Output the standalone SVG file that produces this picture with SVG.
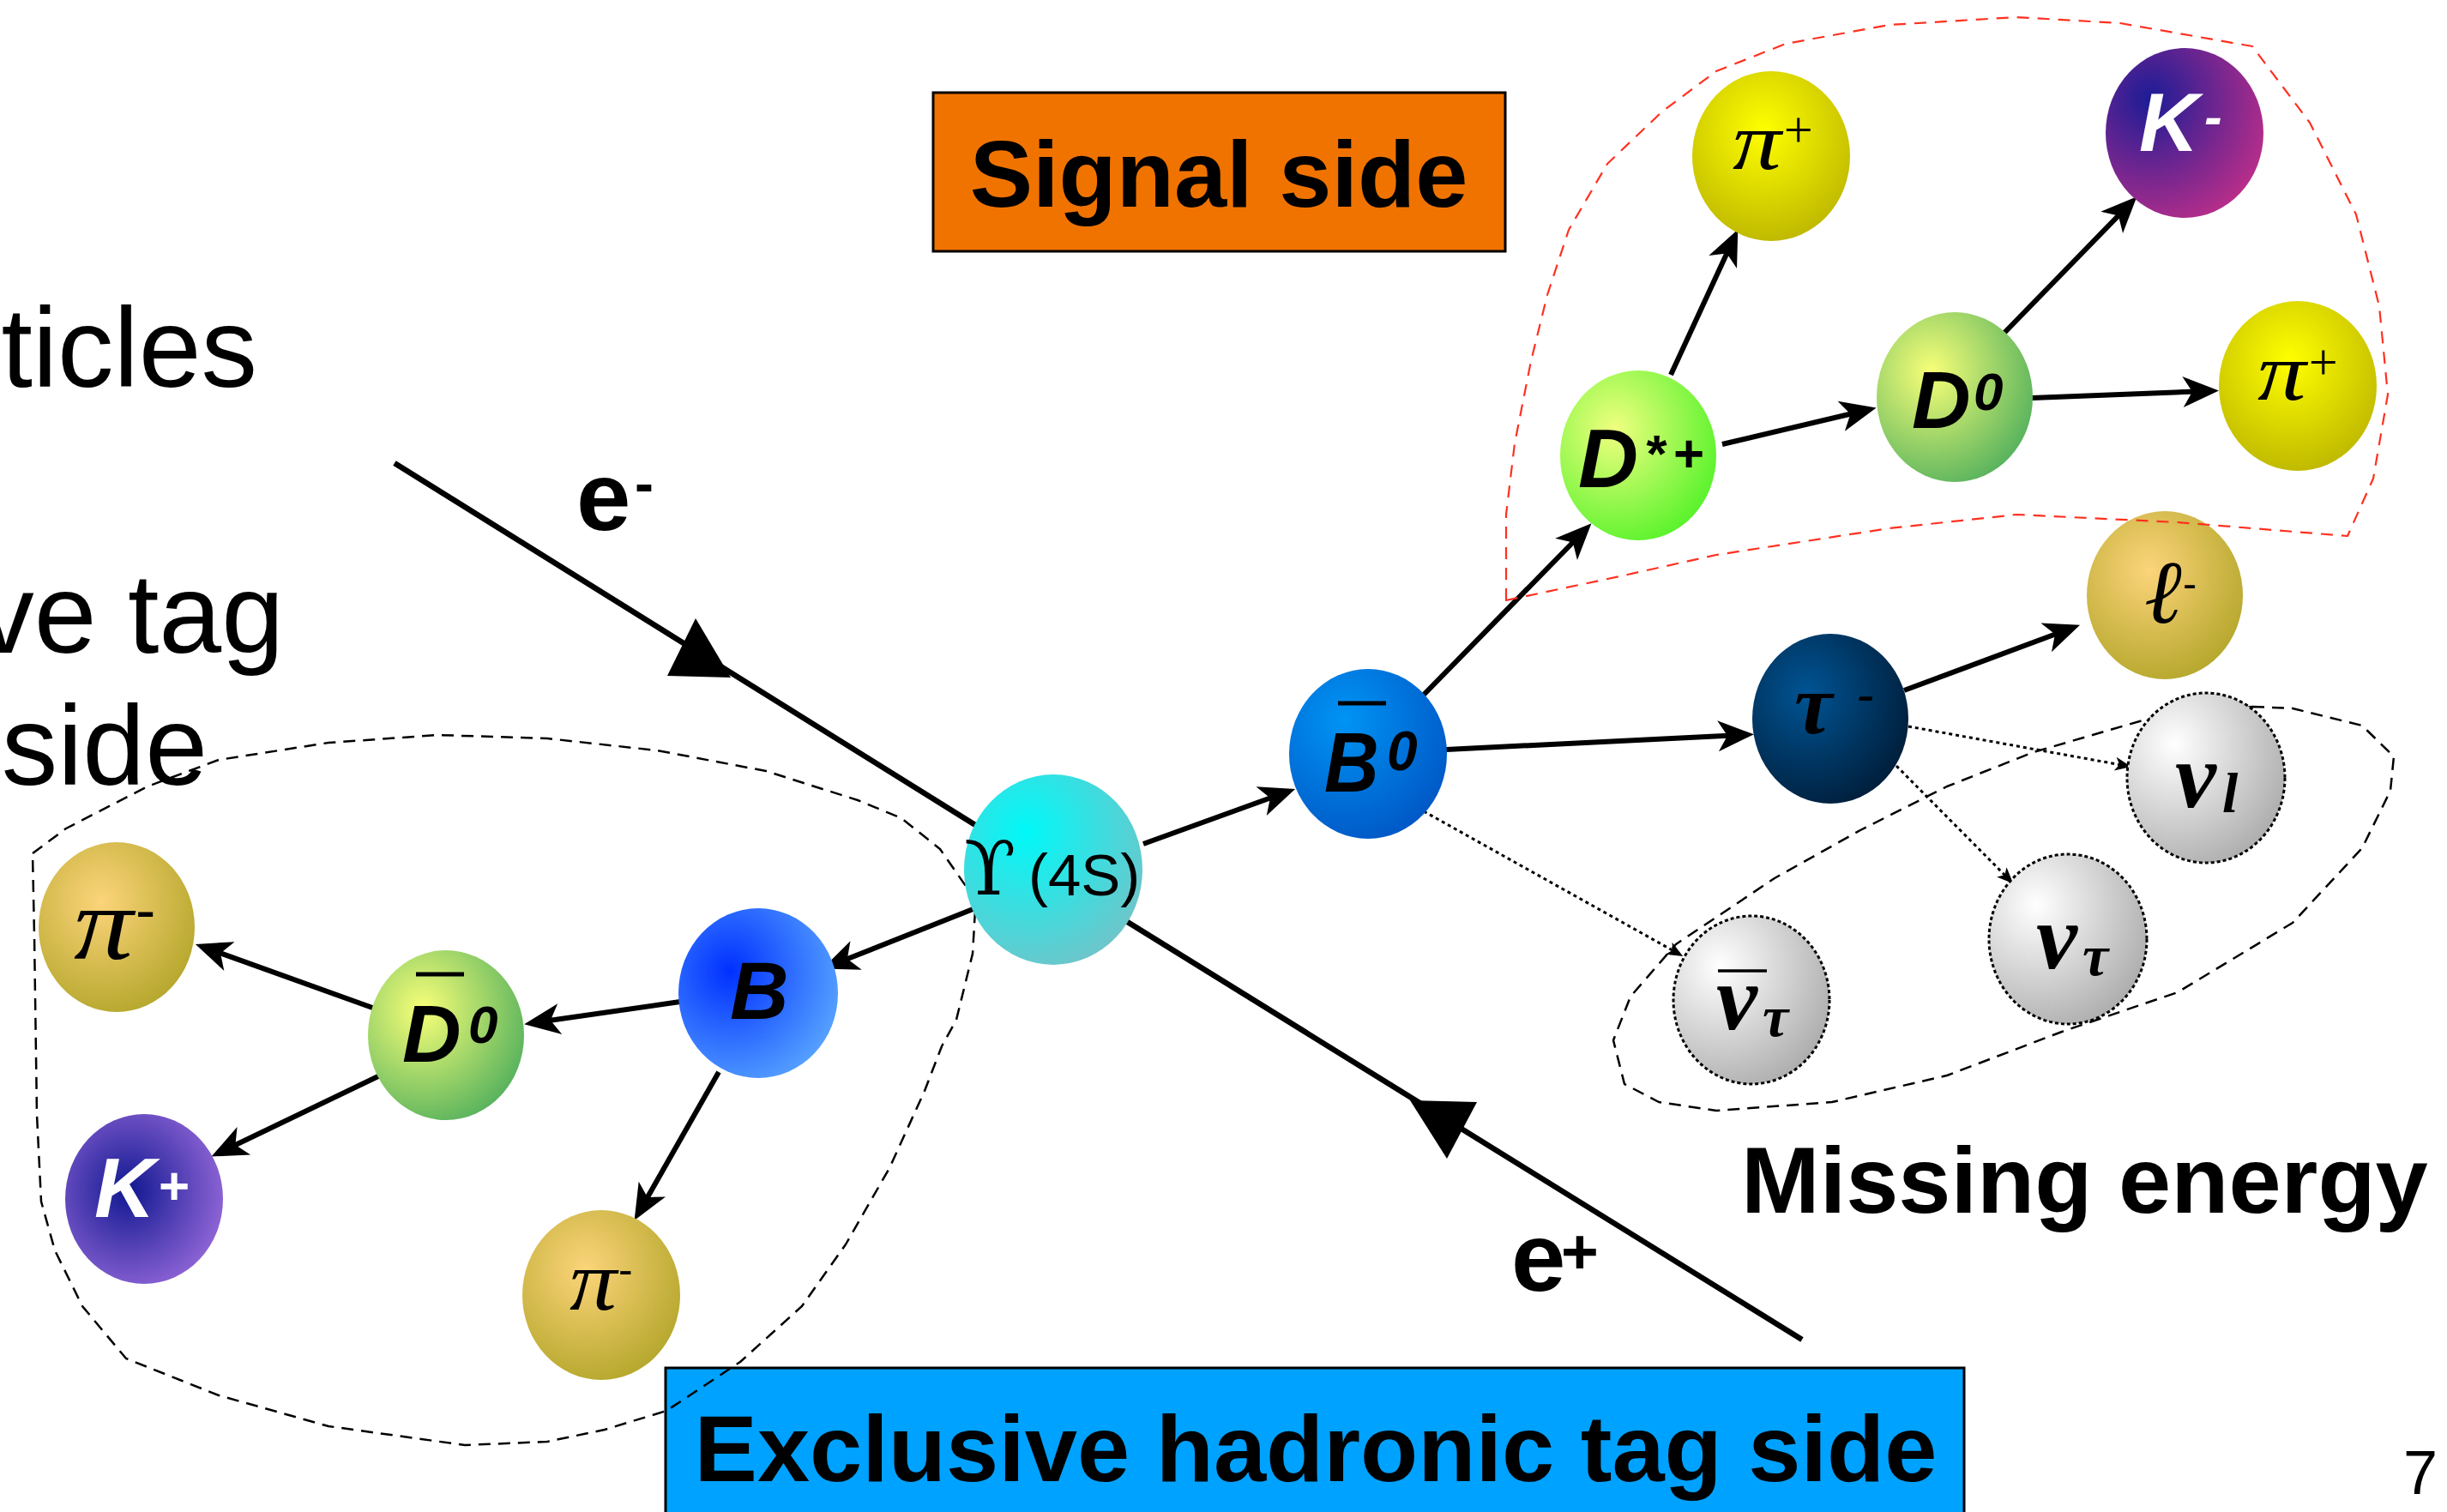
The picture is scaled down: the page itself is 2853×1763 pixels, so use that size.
<svg xmlns="http://www.w3.org/2000/svg" width="2853" height="1763" viewBox="0 0 2853 1763">
<style>
.txt{font-family:"Liberation Sans",Arial,sans-serif;fill:#000}
.bold{font-weight:bold}
.sbi{font-family:"Liberation Sans",Arial,sans-serif;font-weight:bold;font-style:italic;fill:#000}
.wht{fill:#fff}
.pi{font-family:"Liberation Serif","Times New Roman",serif;font-style:italic;fill:#000}
.nu{font-family:"Liberation Serif","Times New Roman",serif;font-weight:bold;font-style:italic;fill:#000}
.arr{stroke:#000;stroke-width:6;fill:none;marker-end:url(#ah)}
.dot{stroke:#000;stroke-width:3;stroke-dasharray:4 4;fill:none;marker-end:url(#ahs)}
.beam{stroke:#000;stroke-width:6.5;fill:none}
.nuel{stroke:#000;stroke-width:3;stroke-dasharray:4 3}
.cont{fill:none;stroke:#000;stroke-width:2.5;stroke-dasharray:14 9;stroke-linejoin:round}
.red{fill:none;stroke:#ff3020;stroke-width:2.2;stroke-dasharray:14 10;stroke-linejoin:round}
.bar{stroke:#000;stroke-width:5}
</style>
<defs>
<marker id="ah" markerUnits="userSpaceOnUse" markerWidth="80" markerHeight="80" refX="0" refY="0" viewBox="-40 -40 80 80" orient="auto" overflow="visible">
<path d="M15,0 L-27,-18 L-16,0 L-27,18 Z" fill="#000"/>
</marker>
<marker id="ahs" markerUnits="userSpaceOnUse" markerWidth="40" markerHeight="40" refX="0" refY="0" viewBox="-20 -20 40 40" orient="auto" overflow="visible">
<path d="M6,0 L-13,-8 L-8,0 L-13,8 Z" fill="#000"/>
</marker>
<radialGradient id="gUps" cx="0.35" cy="0.3" r="0.85"><stop offset="0" stop-color="#00f8f8"/><stop offset="1" stop-color="#7cbfc4"/></radialGradient>
<radialGradient id="gB0" cx="0.35" cy="0.3" r="0.85"><stop offset="0" stop-color="#0094f4"/><stop offset="1" stop-color="#0050c0"/></radialGradient>
<radialGradient id="gB" cx="0.32" cy="0.37" r="0.85"><stop offset="0" stop-color="#0030ff"/><stop offset="1" stop-color="#64b4ff"/></radialGradient>
<radialGradient id="gKp" cx="0.4" cy="0.45" r="0.75"><stop offset="0" stop-color="#101890"/><stop offset="1" stop-color="#a874e4"/></radialGradient>
<radialGradient id="gKm" cx="0.28" cy="0.3" r="0.9"><stop offset="0" stop-color="#1c1c96"/><stop offset="1" stop-color="#cc3088"/></radialGradient>
<radialGradient id="gD" cx="0.35" cy="0.35" r="0.85"><stop offset="0" stop-color="#f8ff78"/><stop offset="1" stop-color="#3aa458"/></radialGradient>
<radialGradient id="gDs" cx="0.35" cy="0.35" r="0.85"><stop offset="0" stop-color="#f0ff80"/><stop offset="1" stop-color="#3cf01c"/></radialGradient>
<radialGradient id="gPiP" cx="0.45" cy="0.35" r="0.8"><stop offset="0" stop-color="#ffff00"/><stop offset="1" stop-color="#b2aa00"/></radialGradient>
<radialGradient id="gPiM" cx="0.4" cy="0.35" r="0.8"><stop offset="0" stop-color="#fcd47a"/><stop offset="1" stop-color="#aaa020"/></radialGradient>
<radialGradient id="gTau" cx="0.35" cy="0.35" r="0.85"><stop offset="0" stop-color="#005494"/><stop offset="1" stop-color="#00142a"/></radialGradient>
<radialGradient id="gNu" cx="0.3" cy="0.3" r="0.85"><stop offset="0" stop-color="#ffffff"/><stop offset="1" stop-color="#a6a6a6"/></radialGradient>
</defs>
<rect x="0" y="0" width="2853" height="1763" fill="#fff"/>

<g id="side-texts" class="txt" font-size="131">
<text x="300" y="451" text-anchor="end">ticles</text>
<text x="331" y="761" text-anchor="end">ve tag</text>
<text x="242" y="915" text-anchor="end">side</text>
</g>

<g id="signal-side">
<rect x="1088" y="108" width="667" height="185" fill="#f07300" stroke="#000" stroke-width="3"/>
<text class="txt bold" x="1421" y="241" font-size="110" text-anchor="middle">Signal side</text>
</g>
<g id="tag-side">
<rect x="776" y="1595" width="1514" height="200" fill="#00a2ff" stroke="#000" stroke-width="3"/>
<text class="txt bold" x="1534" y="1727" font-size="110" text-anchor="middle">Exclusive hadronic tag side</text>
</g>
<text id="missing-energy" class="txt bold" x="2030" y="1414" font-size="110">Missing energy</text>
<text id="page" class="txt" x="2802" y="1742" font-size="72">7</text>

<g id="ellipse-missing">
<path class="cont" d="M2626,824 L2673,826 L2754,846 L2791,882 L2787,922 L2754,989 L2673,1076 L2539,1157 L2404,1203 L2270,1254 L2136,1285 L2001,1295 L1934,1285 L1894,1264 L1881,1213 L1901,1162 L1954,1101 L2069,1024 L2169,968 L2270,917 L2371,877 L2505,838 Z"/>
</g>
<g id="ellipse-tag">
<path class="cont" d="M38,995 L77,966 L172,917 L255,886 L383,866 L510,857 L638,861 L766,875 L893,899 L1000,933 L1051,954 L1096,990 L1128,1036 L1137,1061 L1134,1112 L1115,1189 L1098,1220 L1078,1272 L1037,1362 L986,1451 L935,1523 L863,1588 L777,1645 L705,1667 L638,1681 L542,1685 L383,1663 L255,1627 L147,1584 L96,1523 L64,1458 L48,1401 L43,1300 L40,1091 Z"/>
</g>

<g id="connectors">
<line class="beam" x1="460" y1="540" x2="1150" y2="970"/>
<polygon points="811,721 778,788 852,790" fill="#000"/>
<line class="beam" x1="2101" y1="1562" x2="1300" y2="1066"/>
<polygon points="1644,1283 1722,1285 1687,1351" fill="#000"/>
<line class="arr" x1="1333" y1="984" x2="1496" y2="925"/>
<line class="arr" x1="1659" y1="811" x2="1845" y2="621"/>
<line class="arr" x1="1686" y1="874" x2="2030" y2="857"/>
<line class="arr" x1="1948" y1="437" x2="2020" y2="281"/>
<line class="arr" x1="2008" y1="518" x2="2173" y2="479"/>
<line class="arr" x1="2335" y1="390" x2="2481" y2="240"/>
<line class="arr" x1="2369" y1="464" x2="2572" y2="456"/>
<line class="arr" x1="2220" y1="805" x2="2411" y2="734"/>
<line class="arr" x1="1137" y1="1059" x2="973" y2="1124"/>
<line class="arr" x1="793" y1="1168" x2="626" y2="1192"/>
<line class="arr" x1="437" y1="1176" x2="242" y2="1106"/>
<line class="arr" x1="443" y1="1254" x2="260" y2="1342"/>
<line class="arr" x1="838" y1="1250" x2="747" y2="1410"/>
<line class="dot" x1="1660" y1="946" x2="1957" y2="1112"/>
<line class="dot" x1="2225" y1="847" x2="2479" y2="893"/>
<line class="dot" x1="2211" y1="893" x2="2343" y2="1026"/>
</g>

<g id="beam-labels" class="txt bold">
<text x="672" y="618" font-size="114">e<tspan x="740" y="586" font-size="66">-</tspan></text>
<text x="1762" y="1505" font-size="114">e<tspan x="1820" y="1485" font-size="75">+</tspan></text>
</g>

<g id="node-ups">
<ellipse cx="1228" cy="1014" rx="104" ry="111" fill="url(#gUps)"/>
<text><tspan x="1124" y="1043" font-family="DejaVu Serif,Liberation Serif,serif" font-size="88">ϒ</tspan><tspan x="1199" y="1044" font-family="Liberation Sans,Arial,sans-serif" font-size="69">(4S)</tspan></text>
</g>
<g id="node-B0bar">
<ellipse cx="1595" cy="879" rx="92" ry="99" fill="url(#gB0)"/>
<line class="bar" x1="1560" y1="820" x2="1616" y2="820"/>
<text class="sbi" transform="translate(1544,923) scale(0.9,1)" font-size="98">B</text>
<text class="sbi" x="1617" y="898" font-size="64">0</text>
</g>
<g id="node-B">
<ellipse cx="884" cy="1158" rx="93" ry="99" fill="url(#gB)"/>
<text class="sbi" x="851" y="1188" font-size="95">B</text>
</g>
<g id="node-D0bar">
<ellipse cx="520" cy="1207" rx="91" ry="99" fill="url(#gD)"/>
<line class="bar" x1="485" y1="1136" x2="541" y2="1136"/>
<text class="sbi"><tspan x="469" y="1238" font-size="95">D</tspan><tspan x="546" y="1216" font-size="62">0</tspan></text>
</g>
<g id="node-pim1">
<ellipse cx="136" cy="1081" rx="91" ry="99" fill="url(#gPiM)"/>
<text class="pi" transform="translate(86,1118) scale(1.15,1)" font-size="120">π</text>
<text class="txt" x="158" y="1085" font-size="70">-</text>
</g>
<g id="node-Kp">
<ellipse cx="168" cy="1398" rx="92" ry="99" fill="url(#gKp)"/>
<text class="sbi wht"><tspan x="110" y="1419" font-size="98">K</tspan><tspan x="185" y="1404" font-size="62" font-style="normal">+</tspan></text>
</g>
<g id="node-pim2">
<ellipse cx="701" cy="1510" rx="92" ry="99" fill="url(#gPiM)"/>
<text class="pi" transform="translate(664,1527) scale(1.1,1)" font-size="100">π</text>
<text class="txt" x="721" y="1497" font-size="50">-</text>
</g>
<g id="node-Dstar">
<ellipse cx="1910" cy="531" rx="91" ry="99" fill="url(#gDs)"/>
<text class="sbi"><tspan x="1840" y="568" font-size="97">D</tspan><tspan x="1917" y="550" font-size="62">*</tspan><tspan x="1951" y="550" font-size="62" font-style="normal">+</tspan></text>
</g>
<g id="node-D0">
<ellipse cx="2279" cy="463" rx="91" ry="99" fill="url(#gD)"/>
<text class="sbi"><tspan x="2229" y="499" font-size="95">D</tspan><tspan x="2301" y="478" font-size="62">0</tspan></text>
</g>
<g id="node-pip1">
<ellipse cx="2065" cy="182" rx="92" ry="99" fill="url(#gPiP)"/>
<text class="pi" transform="translate(2020,197) scale(1.18,1)" font-size="96">π</text>
<text class="pi" x="2076" y="171" font-size="60" font-style="normal">+</text>
</g>
<g id="node-Km">
<ellipse cx="2547" cy="155" rx="92" ry="99" fill="url(#gKm)"/>
<text class="sbi wht"><tspan x="2494" y="176" font-size="96">K</tspan><tspan x="2570" y="157" font-size="62">-</tspan></text>
</g>
<g id="node-pip2">
<ellipse cx="2679" cy="450" rx="92" ry="99" fill="url(#gPiP)"/>
<text class="pi" transform="translate(2632,466) scale(1.18,1)" font-size="96">π</text>
<text class="pi" x="2688" y="442" font-size="60" font-style="normal">+</text>
</g>
<g id="node-lep">
<ellipse cx="2524" cy="694" rx="91" ry="98" fill="url(#gPiM)"/>
<text class="pi" x="2500" y="726" font-size="105">ℓ</text>
<text class="txt" x="2545" y="697" font-size="48">-</text>
</g>
<g id="node-tau">
<ellipse cx="2134" cy="838" rx="91" ry="99" fill="url(#gTau)"/>
<text class="nu wht"><tspan x="2092" y="855" font-size="100">τ</tspan><tspan x="2166" y="828" font-size="58">-</tspan></text>
</g>
<g id="node-nul">
<ellipse class="nuel" cx="2572" cy="907" rx="92" ry="99" fill="url(#gNu)"/>
<text class="nu"><tspan x="2536" y="941" font-size="108">ν</tspan><tspan x="2591" y="947" font-size="66">l</tspan></text>
</g>
<g id="node-nutau">
<ellipse class="nuel" cx="2411" cy="1095" rx="92" ry="99" fill="url(#gNu)"/>
<text class="nu"><tspan x="2374" y="1129" font-size="108">ν</tspan><tspan x="2428" y="1137" font-size="68">τ</tspan></text>
</g>
<g id="node-nutaubar">
<ellipse class="nuel" cx="2042" cy="1166" rx="91" ry="98" fill="url(#gNu)"/>
<line x1="2003" y1="1132" x2="2060" y2="1132" stroke="#000" stroke-width="3.5"/>
<text class="nu"><tspan x="2001" y="1200" font-size="108">ν</tspan><tspan x="2055" y="1208" font-size="68">τ</tspan></text>
</g>

<g id="signal-region">
<path class="red" d="M1756,700 L1756,600 L1766,517 L1785,421 L1804,344 L1829,268 L1874,191 L1938,130 L2001,83 L2082,51 L2203,29 L2351,20 L2472,27 L2626,54 L2693,143 L2747,250 L2774,357 L2784,460 L2767,558 L2737,625 L2539,609 L2351,600 L2203,616 L2001,647 L1893,671 Z"/>
</g>
</svg>
